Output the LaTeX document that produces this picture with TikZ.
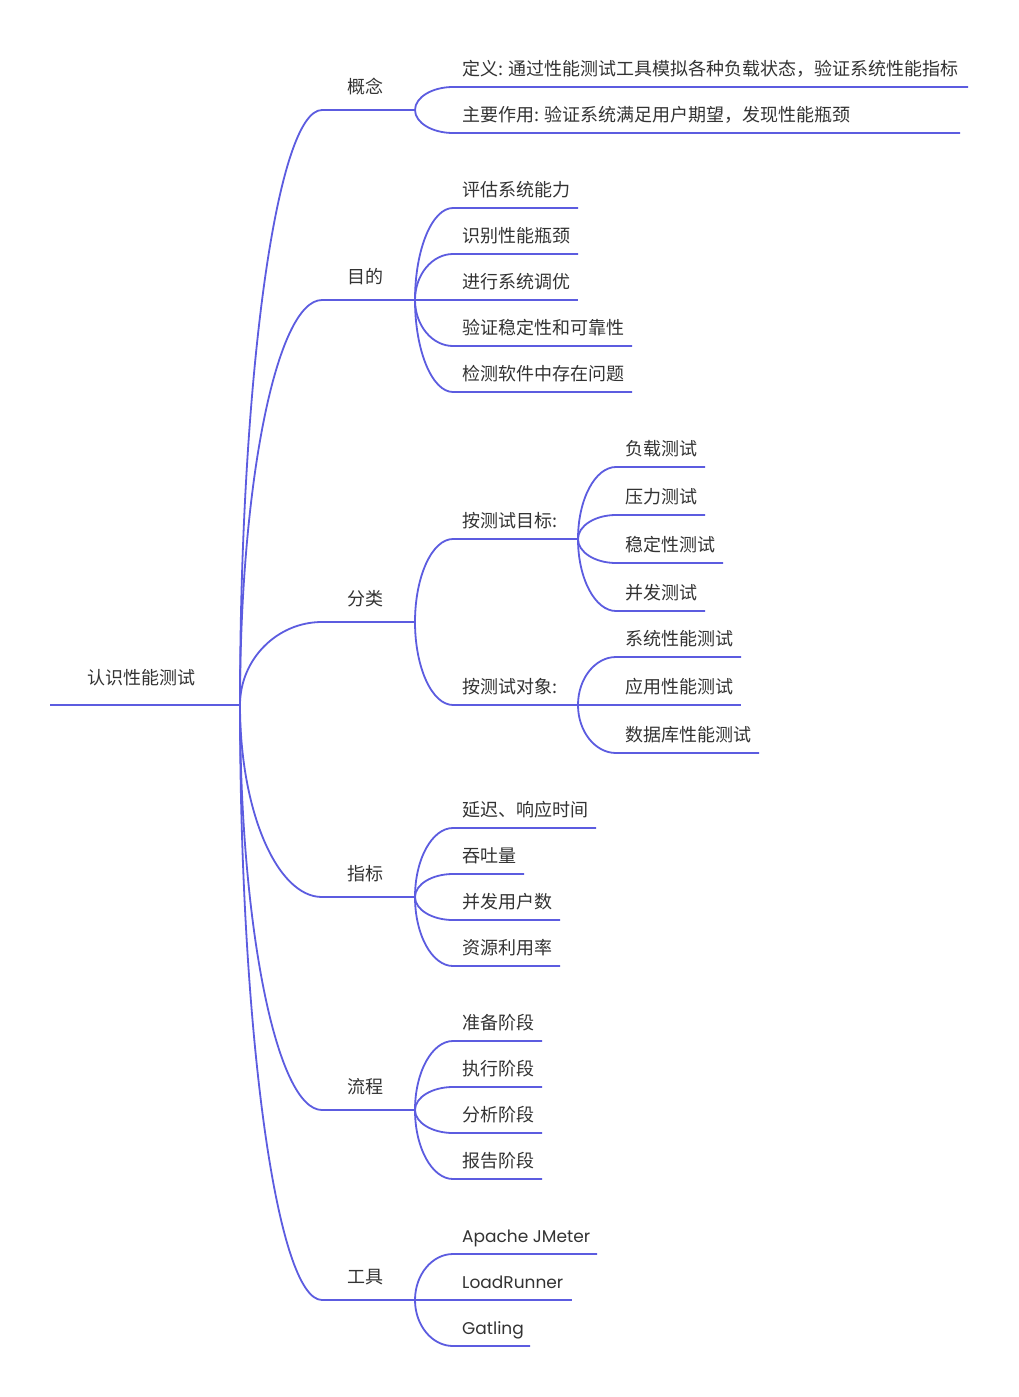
\documentclass[tikz,border=0pt]{standalone}
\usepackage{fontspec}
\setmainfont{Noto Sans CJK SC}
\newfontfamily\latinfont{Poppins}
\usetikzlibrary{calc}
\definecolor{lnc}{RGB}{92,92,224}
\definecolor{txc}{RGB}{51,51,51}
\tikzset{
  ln/.style={draw=lnc, line width=1.8pt},
  br/.style={to path={.. controls ($(\tikztostart)!0.55!(\tikztostart|-\tikztotarget)$) and ($(\tikztotarget)!0.55!(\tikztostart|-\tikztotarget)$) .. (\tikztotarget) \tikztonodes}},
  tx/.style={anchor=base west, inner sep=0pt, text=txc, font=\fontsize{18}{22}\selectfont}
}
\newcommand\lat{\latinfont\fontsize{17}{22}\selectfont}
\newcommand\mmbr[8]{%
  \coordinate (#2s) at (#3,#4);
  \coordinate (#2) at (#5,#4);
  \draw[ln] (#1) to[br] (#2s) -- (#2);
  \node[tx] (#2t) at (#6,#4-#7) {#8};
}
\begin{document}
\begin{tikzpicture}[x=1pt,y=-1pt]
\fill[white] (0,0) rectangle (1018,1397);
\useasboundingbox (0,0) rectangle (1018,1397);
% root
\coordinate (rl) at (50,705);
\coordinate (r) at (240,705);
\draw[ln] (rl) -- (r);
\node[tx] (rt) at (87,684.5) {认识性能测试};
% level 1
\mmbr{r}{a}{322}{110}{415}{347}{17}{概念}
\mmbr{r}{b}{322}{300}{415}{347}{17}{目的}
\mmbr{r}{c}{322}{622}{415}{347}{17}{分类}
\mmbr{r}{d}{322}{897}{415}{347}{17}{指标}
\mmbr{r}{e}{322}{1110}{415}{347}{17}{流程}
\mmbr{r}{f}{322}{1300}{415}{347}{17}{工具}
% 概念
\mmbr{a}{a1}{453}{87}{968}{462}{12}{定义: 通过性能测试工具模拟各种负载状态，验证系统性能指标}
\mmbr{a}{a2}{453}{133}{960}{462}{12}{主要作用: 验证系统满足用户期望，发现性能瓶颈}
% 目的
\mmbr{b}{b1}{453}{208}{578}{462}{12}{评估系统能力}
\mmbr{b}{b2}{453}{254}{578}{462}{12}{识别性能瓶颈}
\mmbr{b}{b3}{453}{300}{578}{462}{12}{进行系统调优}
\mmbr{b}{b4}{453}{346}{632}{462}{12}{验证稳定性和可靠性}
\mmbr{b}{b5}{453}{392}{632}{462}{12}{检测软件中存在问题}
% 分类
\mmbr{c}{c1}{453}{539}{578}{462}{12}{按测试目标:}
\mmbr{c}{c2}{453}{705}{578}{462}{12}{按测试对象:}
\mmbr{c1}{c11}{616}{467}{705}{625}{12}{负载测试}
\mmbr{c1}{c12}{616}{515}{705}{625}{12}{压力测试}
\mmbr{c1}{c13}{616}{563}{723}{625}{12}{稳定性测试}
\mmbr{c1}{c14}{616}{611}{705}{625}{12}{并发测试}
\mmbr{c2}{c21}{616}{657}{741}{625}{12}{系统性能测试}
\mmbr{c2}{c22}{616}{705}{741}{625}{12}{应用性能测试}
\mmbr{c2}{c23}{616}{753}{759}{625}{12}{数据库性能测试}
% 指标
\mmbr{d}{d1}{453}{828}{596}{462}{12}{延迟、响应时间}
\mmbr{d}{d2}{453}{874}{524}{462}{12}{吞吐量}
\mmbr{d}{d3}{453}{920}{560}{462}{12}{并发用户数}
\mmbr{d}{d4}{453}{966}{560}{462}{12}{资源利用率}
% 流程
\mmbr{e}{e1}{453}{1041}{542}{462}{12}{准备阶段}
\mmbr{e}{e2}{453}{1087}{542}{462}{12}{执行阶段}
\mmbr{e}{e3}{453}{1133}{542}{462}{12}{分析阶段}
\mmbr{e}{e4}{453}{1179}{542}{462}{12}{报告阶段}
% 工具
\mmbr{f}{f1}{453}{1254}{597}{462}{12}{\lat Apache JMeter}
\mmbr{f}{f2}{453}{1300}{572}{462}{12}{\lat LoadRunner}
\mmbr{f}{f3}{453}{1346}{530}{462}{12}{\lat Gatling}
\end{tikzpicture}
\end{document}
